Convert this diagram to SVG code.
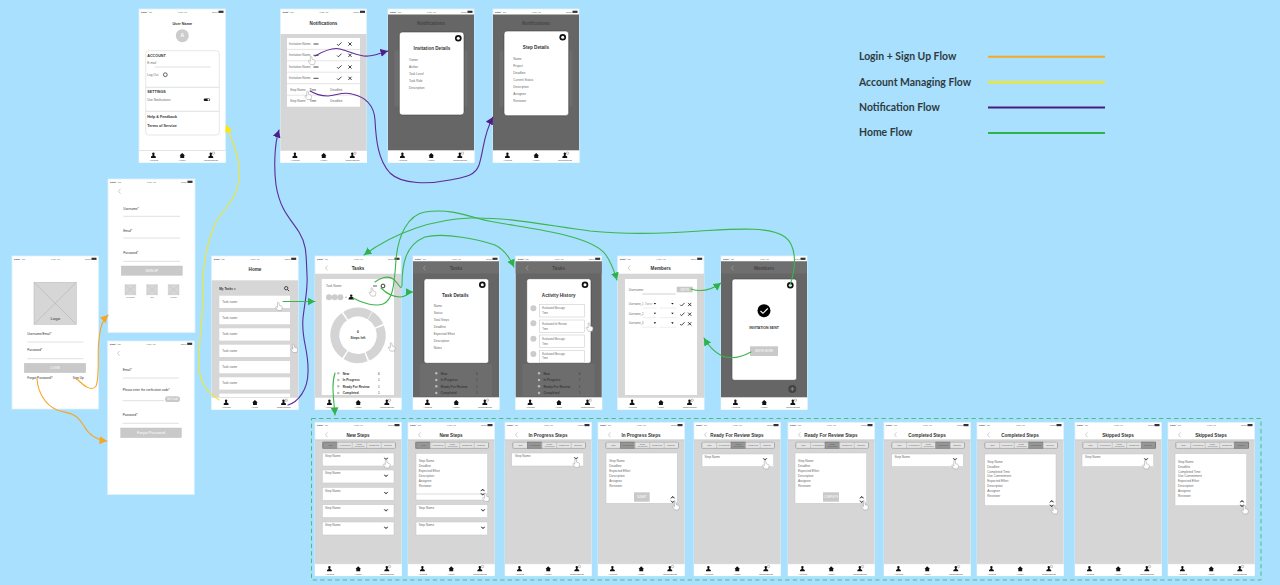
<svg xmlns="http://www.w3.org/2000/svg" xmlns:xlink="http://www.w3.org/1999/xlink" width="1280" height="585" viewBox="0 0 1280 585">
<style>
text{font-family:"Liberation Sans",Arial,sans-serif;font-size:3.1px}
.h{font-size:4.6px;font-weight:700;fill:#333;text-anchor:middle}
.b{font-size:3.7px;font-weight:700;fill:#333}
.m{text-anchor:middle}
.w{fill:#fff;text-anchor:middle}
.dk{fill:#454545;text-anchor:middle;font-size:4.6px;font-weight:700}
.scr{fill:#fff;stroke:#dff3fe;stroke-width:.8}
.g{fill:#d6d6d6}
.ov{fill:#666}
.card{fill:#fff;stroke:#c4c4c4;stroke-width:.5}
.ln{stroke:#dcdcdc;stroke-width:.9;fill:none}
.btn{fill:#c9c9c9;stroke:#bdbdbd;stroke-width:.4}
.modal{fill:#fff;stroke:#444;stroke-width:.6}
.leg{font-family:"Lato","Noto Sans",sans-serif;font-size:10.45px;font-weight:700;fill:#2f3b42}
.flow{fill:none;stroke-width:1.1;stroke-linecap:round}
.or{stroke:#f6a623}.ye{stroke:#f4e631}.pu{stroke:#5e2a98}.gr{stroke:#3cb54a}
</style>
<defs>
<marker id="mor" markerUnits="userSpaceOnUse" markerWidth="9" markerHeight="9" refX="7.5" refY="4" orient="auto"><path d="M0,0L7.5,4L0,8z" fill="#f6a623"/></marker>
<marker id="mye" markerUnits="userSpaceOnUse" markerWidth="9" markerHeight="9" refX="7.5" refY="4" orient="auto"><path d="M0,0L7.5,4L0,8z" fill="#ffe800"/></marker>
<marker id="mpu" markerUnits="userSpaceOnUse" markerWidth="9" markerHeight="9" refX="7.5" refY="4" orient="auto"><path d="M0,0L7.5,4L0,8z" fill="#4f1d8c"/></marker>
<marker id="mgr" markerUnits="userSpaceOnUse" markerWidth="9" markerHeight="9" refX="7.5" refY="4" orient="auto"><path d="M0,0L7.5,4L0,8z" fill="#2fb24a"/></marker>
<g id="st">
<text x="2" y="3.6" style="font-size:2.4px" fill="#444">●●●●○ Fiji</text>
<text x="43.3" y="3.6" class="m" style="font-size:2.4px" fill="#444">9:07 AM</text>
<text x="73" y="3.6" style="font-size:2.4px" fill="#444">100%</text>
<rect x="79.5" y="1.7" width="5" height="2.2" fill="#333"/>
</g>
<g id="tb">
<rect y="141.5" width="86.5" height="12" fill="#fff"/>
<path d="M0,141.5H86.5" stroke="#c8c8c8" stroke-width=".5"/>
<path d="M12,149V147.6L13.6,146.6V146C12.9,145 13,143.6 14.4,143.6S15.9,145 15.2,146V146.6L16.8,147.6V149z" fill="#111"/>
<path d="M40.5,146.6L43.2,144L46,146.6H45.2V149H41.3V146.6z" fill="#111"/>
<path d="M69.4,149V147.6L71,146.6V146C70.3,145 70.4,143.6 71.8,143.6S73.3,145 72.6,146V146.6L74.2,147.6V149z" fill="#111"/>
<circle cx="74.5" cy="144.2" r="1.2" fill="#fff" stroke="#333" stroke-width=".3"/>
<text x="14.5" y="152.4" class="m" style="font-size:2.5px" fill="#444">Account</text>
<text x="43.2" y="152.4" class="m" style="font-size:2.5px" fill="#444">Home</text>
<text x="72" y="152.4" class="m" style="font-size:2.5px" fill="#444">Notifications</text>
</g>
<path id="bk" d="M2,-2.4L0,0L2,2.4" fill="none" stroke="#aaa" stroke-width=".6"/>
<g id="hand"><path d="M-1.2,-4.5C-.4,-5 .3,-4.6 .4,-3.8L.6,-1.6L2.8,-.9C3.6,-.5 3.8,.3 3.4,1.6L2.8,3.6H-1L-3,.6C-3.4,-.1 -2.6,-.8 -1.9,-.2L-1.2,.4z" fill="#fff" stroke="#999" stroke-width=".5"/></g>
<path id="chd" d="M-2,-1L0,1L2,-1L0,.1z" fill="#222" stroke="#222" stroke-width=".4"/>
<path id="chu" d="M-2,1L0,-1L2,1L0,-.1z" fill="#222" stroke="#222" stroke-width=".4"/>
<path id="chk" d="M-2.2,.2L-.9,1.5L2.2,-1.6" fill="none" stroke="#111" stroke-width=".8"/>
<path id="xm" d="M-1.6,-1.6L1.6,1.6M1.6,-1.6L-1.6,1.6" fill="none" stroke="#111" stroke-width=".8"/>
<g id="cl"><circle r="3.3" fill="#111"/><circle r="1.5" fill="#fff"/></g>
<g id="tlist">
<circle cx="23.3" cy="117.3" r="1.2" fill="#bbb"/><circle cx="23.3" cy="124" r="1.2" fill="#bbb"/><circle cx="23.3" cy="130.3" r="1.2" fill="#bbb"/><circle cx="23.3" cy="137" r="1.2" fill="#bbb"/>
<text x="27.7" y="118.5" font-weight="700">New</text><text x="63" y="118.5">6</text>
<text x="27.7" y="125.2" font-weight="700">In Progress</text><text x="63" y="125.2">1</text>
<text x="27.7" y="131.5" font-weight="700">Ready For Review</text><text x="63" y="131.5">1</text>
<text x="27.7" y="138.2" font-weight="700">Completed</text><text x="63" y="138.2">1</text>
</g>
<g id="sb">
<rect x="7.3" y="19.4" width="73.7" height="7" rx="1.8" fill="#a9a9a9"/>
<rect x="8.3" y="20.2" width="71.7" height="5.4" fill="#e4e4e4"/>
<path d="M22.7,20V26M37.2,20V26M51.7,20V26M66.2,20V26" stroke="#999" stroke-width=".4"/>
<g fill="#555" text-anchor="middle">
<text x="15.5" y="23.7" style="font-size:2.1px">New</text>
<text x="30" y="23.7" style="font-size:2.1px">In Progress</text>
<text x="44.5" y="22.5" style="font-size:1.9px">Ready</text><text x="44.5" y="24.7" style="font-size:1.9px">For Review</text>
<text x="59" y="23.7" style="font-size:2.1px">Completed</text>
<text x="73" y="23.7" style="font-size:2.1px">Skipped</text>
</g>
</g>
<g id="stepbase">
<rect width="86.5" height="153.5" class="scr"/>
<rect y="17.4" width="86.5" height="124.1" class="g"/>
<path d="M0,17.5H86.5" stroke="#bbb" stroke-width=".5"/>
<use href="#st"/><use href="#tb"/>
<use href="#bk" x="10.5" y="12.5"/>
<use href="#sb"/>
</g>
<g id="six" fill="#6a6a6a">
<text y="0">Step Name</text><text y="5">Deadline</text><text y="10">Expected Effort</text><text y="15">Description</text><text y="20">Assignee</text><text y="25">Reviewer</text>
</g>
<g id="eight" fill="#6a6a6a">
<text y="0">Step Name</text><text y="4.7">Deadline</text><text y="9.4">Completed Time</text><text y="14.2">Use Commitment</text><text y="19">Expected Effort</text><text y="23.7">Description</text><text y="28.5">Assignee</text><text y="33.3">Reviewer</text>
</g>
</defs>
<rect width="1280" height="585" fill="#a8e0fd"/>

<g id="legend">
<text x="859" y="60" class="leg">Login + Sign Up Flow</text>
<text x="859" y="85.5" class="leg">Account Managing Flow</text>
<text x="859" y="111" class="leg">Notification Flow</text>
<text x="859" y="136" class="leg">Home Flow</text>
<path d="M988,56.7H1105" stroke="#f9a825" stroke-width="2"/>
<path d="M988,82.2H1105" stroke="#ffe800" stroke-width="2"/>
<path d="M988,107.5H1105" stroke="#4a1a80" stroke-width="2"/>
<path d="M988,133H1105" stroke="#2fb24a" stroke-width="2"/>
</g>

<g id="account" transform="translate(139,9)" fill="#6a6a6a">
<rect width="86.5" height="153.5" class="scr"/><use href="#st"/><use href="#tb"/>
<text x="43.3" y="15.5" class="h" style="font-size:3.8px">User Name</text>
<circle cx="43.3" cy="26.7" r="6.5" fill="#ccc"/><text x="43.3" y="28.4" class="w" style="font-size:5px" font-weight="700">A</text>
<rect x="6.7" y="41.7" width="73.6" height="84.3" rx="3" fill="#fff" stroke="#ddd" stroke-width=".7"/>
<text x="8.3" y="48.2" class="b">ACCOUNT</text><text x="8.3" y="54.5">E-mail</text>
<path d="M16,58H71.7M6.7,78.3H80.3M6.7,102.3H80.3" class="ln"/>
<text x="8.3" y="66.8">Log Out</text><circle cx="26.3" cy="65.7" r="1.9" fill="#fff" stroke="#222" stroke-width=".7"/>
<text x="8.3" y="84.2" class="b">SETTINGS</text><text x="8.3" y="91.8">Use Notifications</text>
<rect x="64.7" y="89.5" width="6.4" height="2.6" rx="1.3" fill="#111"/><circle cx="69.5" cy="90.8" r="1" fill="#fff"/>
<text x="8.3" y="109.3" class="b">Help &amp; Feedback</text><text x="8.3" y="117.6" class="b">Terms of Service</text>
</g>

<g id="signup" transform="translate(108,179)" fill="#6a6a6a">
<rect width="87" height="153.5" class="scr"/><use href="#st"/>
<use href="#bk" x="10.5" y="12.3"/>
<text x="15.3" y="30.5" fill="#333">Username*</text><path d="M15.3,37.3H72M15.3,59H72M15.3,82.3H72" class="ln"/>
<text x="15.3" y="52.5" fill="#333">Email*</text><text x="15.3" y="75.2" fill="#333">Password*</text>
<rect x="13.3" y="87" width="61" height="9.3" class="btn"/><text x="43.8" y="92.8" class="w">SIGN UP</text>
<g fill="#d6d6d6" stroke="#bbb" stroke-width=".4"><path d="M17,105.7h10.7v10H17zl10.7,10M27.7,105.7l-10.7,10M38.7,105.7h10.7v10H38.7zl10.7,10M49.4,105.7l-10.7,10M60.3,105.7H71v10H60.3zL71,115.7M71,105.7l-10.7,10"/></g>
<text x="22.3" y="119" class="m" style="font-size:2.4px">WeChat</text><text x="44" y="119" class="m" style="font-size:2.4px">QQ</text><text x="65.6" y="119" class="m" style="font-size:2.4px">Weibo</text>
</g>

<g id="login" transform="translate(12,256)" fill="#6a6a6a">
<rect width="86.5" height="153" class="scr"/><use href="#st"/>
<rect x="22" y="26.3" width="42.3" height="42" fill="#d6d6d6" stroke="#b5b5b5" stroke-width=".5"/>
<path d="M22,26.3L64.3,68.3M64.3,26.3L22,68.3" stroke="#aaa" stroke-width=".5"/>
<text x="43.3" y="64.3" class="m" style="font-size:4.4px" fill="#333">Logo</text>
<text x="15.3" y="79.1" fill="#333">Username/Email*</text><path d="M15.3,86H71.3M15.3,102.7H71.3" class="ln"/>
<text x="15.3" y="95.4" fill="#333">Password*</text>
<rect x="12.3" y="107.3" width="61.4" height="9.4" class="btn"/><text x="43" y="113.1" class="w">LOGIN</text>
<text x="15.3" y="123.1" fill="#333">Forgot Password?</text><text x="60.7" y="123.1" fill="#333">Sign Up</text>
</g>

<g id="forgot" transform="translate(107.7,341)" fill="#6a6a6a">
<rect width="86.5" height="153.5" class="scr"/><use href="#st"/>
<use href="#bk" x="9.8" y="12.3"/>
<text x="15" y="29.8" fill="#333">Email*</text><path d="M15,37H71.3M15,59.7H56.3M15,82.3H71.3" class="ln"/>
<text x="15" y="50.4" fill="#333">Please enter the verification code*</text>
<rect x="57.3" y="55.3" width="15" height="5.7" rx="2.8" fill="#c9c9c9"/><text x="64.8" y="59.2" class="w" style="font-size:2.6px">Get Code</text>
<text x="15" y="75.1" fill="#333">Password*</text>
<rect x="13" y="87" width="60.7" height="9.7" class="btn"/><text x="43.3" y="93.3" class="w" style="font-size:3.7px">Forgot Password</text>
</g>

<g id="home" transform="translate(211.7,256)" fill="#6a6a6a">
<rect width="86.5" height="153.5" class="scr"/><rect y="24.3" width="86.5" height="117.2" class="g"/>
<rect x="7.6" y="39.7" width="70.7" height="12.3" fill="#fff"/><rect x="7.6" y="56" width="70.7" height="12.3" fill="#fff"/><rect x="7.6" y="72.3" width="70.7" height="12.3" fill="#fff"/><rect x="7.6" y="88.7" width="70.7" height="12.3" fill="#fff"/><rect x="7.6" y="105" width="70.7" height="12.3" fill="#fff"/><rect x="7.6" y="121.3" width="70.7" height="12.3" fill="#fff"/><rect x="7.6" y="137.6" width="70.7" height="4" fill="#fff"/>
<use href="#st"/><use href="#tb"/>
<text x="43.3" y="15.4" class="h">Home</text>
<text x="7.6" y="33.8" fill="#333" font-weight="700">My Tasks ▾</text>
<circle cx="74.5" cy="32.2" r="1.7" fill="none" stroke="#111" stroke-width=".7"/><path d="M75.8,33.5L77.4,35.1" stroke="#111" stroke-width=".8"/>
<text x="10.6" y="46.8">Task name</text><text x="10.6" y="63.1">Task name</text><text x="10.6" y="79.4">Task name</text><text x="10.6" y="95.8">Task name</text><text x="10.6" y="112.1">Task name</text><text x="10.6" y="128.4">Task name</text>
<use href="#hand" x="67" y="51"/><use href="#hand" x="82.3" y="93"/>
</g>

<g id="notifications" transform="translate(280.5,9)" fill="#6a6a6a">
<rect width="86" height="153.5" class="scr"/><rect y="25" width="86" height="116.5" class="g"/>
<rect x="6.5" y="29" width="73" height="68.7" fill="#fff"/>
<path d="M6.5,40.4H79.5M6.5,51.8H79.5M6.5,63.2H79.5M6.5,74.6H79.5M6.5,86.2H79.5" stroke="#e2e2e2" stroke-width=".9"/>
<use href="#st"/><use href="#tb"/>
<text x="43" y="15.8" class="h">Notifications</text>
<text x="8.5" y="36">Invitation Name</text><text x="8.5" y="47.4">Invitation Name</text><text x="8.5" y="59">Invitation Name</text><text x="8.5" y="70.3">Invitation Name</text><text x="9.5" y="81.8">Step Name</text><text x="9.5" y="93">Step Name</text>
<path d="M33,35H38M33,46.3H38M33,58H38M33,69.3H38" stroke="#333" stroke-width=".9"/>
<text x="29" y="81.8" fill="#444">Time</text><text x="29" y="93" fill="#444">Time</text><text x="49.8" y="81.8">Deadline</text><text x="49.8" y="93">Deadline</text>
<use href="#chk" x="58.8" y="35"/><use href="#xm" x="69.5" y="35"/><use href="#chk" x="58.8" y="46.3"/><use href="#xm" x="69.5" y="46.3"/><use href="#chk" x="58.8" y="58"/><use href="#xm" x="69.5" y="58"/><use href="#chk" x="58.8" y="69.3"/><use href="#xm" x="69.5" y="69.3"/>
<use href="#hand" x="31" y="52"/><use href="#hand" x="27.5" y="87"/>
</g>

<g id="invitation-details" transform="translate(388,9)" fill="#6a6a6a">
<rect width="86" height="153.5" class="scr"/><rect y="5.5" width="86" height="136" class="ov"/>
<path d="M6.5,41.5H79.5V97.5H6.5z" fill="#6d6d6d"/>
<use href="#st"/><use href="#tb"/>
<text x="43" y="15.8" class="dk">Notifications</text>
<rect x="11.3" y="23" width="64.7" height="83" rx="3" class="modal"/><use href="#cl" x="70.3" y="29.3"/>
<text x="44" y="40.8" class="h">Invitation Details</text>
<text x="21" y="51.8">Owner</text><text x="21" y="59.1">Author</text><text x="21" y="66.1">Task Level</text><text x="21" y="73.1">Task Role</text><text x="21" y="80.4">Description</text>
</g>

<g id="step-details" transform="translate(493,9)" fill="#6a6a6a">
<rect width="86" height="153.5" class="scr"/><rect y="5.5" width="86" height="136" class="ov"/>
<path d="M6.5,41.5H79.5V97.5H6.5z" fill="#6d6d6d"/>
<use href="#st"/><use href="#tb"/>
<text x="43" y="15.8" class="dk">Notifications</text>
<rect x="11" y="22" width="64.7" height="84.7" rx="3" class="modal"/><use href="#cl" x="69.7" y="28.3"/>
<text x="43" y="39.8" class="h">Step Details</text>
<text x="20.3" y="50.8">Name</text><text x="20.3" y="57.8">Project</text><text x="20.3" y="65.1">Deadline</text><text x="20.3" y="72.1">Current Status</text><text x="20.3" y="79.1">Description</text><text x="20.3" y="86.1">Assignee</text><text x="20.3" y="93.1">Reviewer</text>
</g>

<g id="tasks" transform="translate(315,256)" fill="#6a6a6a">
<rect width="86" height="153.5" class="scr"/><rect y="17.7" width="86" height="123.8" class="g"/><rect x="6.7" y="23" width="72.3" height="116" fill="#fff"/>
<use href="#st"/><use href="#tb"/><use href="#bk" x="10.5" y="12"/>
<text x="43" y="14.2" class="h">Tasks</text>
<text x="11" y="31.1">Task Name</text>
<circle cx="14" cy="41.3" r="3" fill="#ccc"/><circle cx="19.7" cy="41.3" r="3" fill="#ccc"/><circle cx="25.3" cy="41.3" r="3" fill="#ccc"/>
<text x="30" y="42.4" fill="#333">+</text><path d="M33.5,43.5C33.5,41.5 35,40.5 36.2,40.5S39,41.5 39,43.5z" fill="#111"/><circle cx="36.2" cy="39.6" r="1.2" fill="#111"/>
<path d="M58,30H62" stroke="#333" stroke-width=".8"/><circle cx="68" cy="30" r="1.9" fill="#fff" stroke="#222" stroke-width=".9"/>
<use href="#hand" x="57.3" y="36.5"/>
<g transform="rotate(-58 43 79.3)"><circle cx="43" cy="79.3" r="23.2" fill="none" stroke="#d4d4d4" stroke-width="9" stroke-dasharray="13.5 1.5 34.9 1.5 20.8 1.5 43.8 1.5 25.2 1.5"/></g>
<text x="43" y="77.2" class="b m" style="font-size:3.3px">6</text><text x="43" y="82.5" class="b m" style="font-size:3.3px">Steps left</text>
<use href="#hand" x="76.5" y="91.5"/>
<use href="#tlist" fill="#333"/>
</g>

<g id="task-details" transform="translate(413,256)" fill="#6a6a6a">
<rect width="86" height="153.5" class="scr"/><rect y="5.5" width="86" height="136" class="ov"/><rect y="5.5" width="86" height="12" fill="#6f6f6f"/>
<rect x="6.7" y="108" width="72.3" height="32" fill="#6d6d6d"/>
<use href="#st"/><use href="#tb"/><use href="#bk" x="10.5" y="12"/>
<text x="43" y="14.2" class="dk">Tasks</text><use href="#tlist" fill="#3a3a3a"/>
<rect x="11" y="22.7" width="64.7" height="84.6" rx="2.5" class="modal"/><use href="#cl" x="69.3" y="28.7"/>
<text x="42.3" y="40.5" class="h">Task Details</text>
<text x="20.7" y="51.4">Name</text><text x="20.7" y="58.4">Status</text><text x="20.7" y="64.8">Total Steps</text><text x="20.7" y="71.8">Deadline</text><text x="20.7" y="78.8">Expected Effort</text><text x="20.7" y="86.1">Description</text><text x="20.7" y="93.1">Notes</text>
</g>

<g id="activity-history" transform="translate(515.7,256)" fill="#6a6a6a">
<rect width="86" height="153.5" class="scr"/><rect y="5.5" width="86" height="136" class="ov"/><rect y="5.5" width="86" height="12" fill="#6f6f6f"/>
<rect x="6.7" y="108" width="72.3" height="32" fill="#6d6d6d"/>
<use href="#st"/><use href="#tb"/><use href="#bk" x="10.5" y="12"/>
<text x="43" y="14.2" class="dk">Tasks</text><use href="#tlist" fill="#3a3a3a"/>
<rect x="11" y="22.7" width="64.3" height="84.6" rx="2.5" class="modal"/><use href="#cl" x="69.3" y="28.7"/>
<text x="43" y="40.5" class="h">Activity History</text>
<g fill="#ccc"><circle cx="17.7" cy="52.3" r="3"/><circle cx="17.7" cy="67.3" r="3"/><circle cx="17.7" cy="82.7" r="3"/><circle cx="17.7" cy="98" r="3"/></g>
<rect x="23.7" y="48.3" width="45" height="12.7" class="card"/><rect x="23.7" y="64" width="45" height="12.7" class="card"/><rect x="23.7" y="79" width="45" height="12.7" class="card"/><rect x="23.7" y="94.3" width="45" height="12" class="card"/>
<g><text x="26.5" y="53" style="font-size:2.6px">Evaluated Message</text><text x="26.5" y="58.3" style="font-size:2.6px">Time</text><text x="26.5" y="68.5" style="font-size:2.6px">Evaluated for Review</text><text x="26.5" y="73.6" style="font-size:2.6px">Time</text><text x="26.5" y="83.5" style="font-size:2.6px">Evaluated Message</text><text x="26.5" y="88.8" style="font-size:2.6px">Time</text><text x="26.5" y="98.5" style="font-size:2.6px">Evaluated Message</text><text x="26.5" y="103.4" style="font-size:2.6px">Time</text></g>
<use href="#hand" x="73.7" y="71.7"/>
</g>

<g id="members" transform="translate(617.7,256)" fill="#6a6a6a">
<rect width="86.3" height="153.5" class="scr"/><rect y="17.7" width="86.3" height="123.8" class="g"/><rect x="7.3" y="23" width="72" height="116" fill="#fff"/>
<use href="#st"/><use href="#tb"/><use href="#bk" x="10.5" y="12"/>
<text x="43" y="14.2" class="h">Members</text>
<text x="11" y="34.8">Username:</text><path d="M24.7,38H58" stroke="#ccc" stroke-width=".9"/>
<rect x="59" y="30.7" width="16" height="5.6" fill="#c9c9c9"/><text x="67" y="34.6" class="w" style="font-size:2.6px">INVITE</text>
<g><text x="11" y="49" style="font-size:2.6px">Username_1</text><text x="11" y="58.7" style="font-size:2.6px">Username_2</text><text x="11" y="68.3" style="font-size:2.6px">Username_3</text><text x="27" y="49" style="font-size:2.6px" fill="#999">Owner</text></g>
<path d="M25,52H39M41.7,52H59M25,61.7H39M41.7,61.7H59M25,71.3H39M41.7,71.3H59" class="ln" style="stroke-width:.5"/>
<path d="M36,47H38.4L37.2,48.6zM53.5,47H56L54.7,48.6zM36,56.7H38.4L37.2,58.3zM53.5,56.7H56L54.7,58.3zM36,66.3H38.4L37.2,67.9zM53.5,66.3H56L54.7,67.9z" fill="#111"/>
<use href="#chk" x="64.7" y="48.5"/><use href="#xm" x="72" y="48.5"/><use href="#chk" x="64.7" y="58.2"/><use href="#xm" x="72" y="58.2"/><use href="#chk" x="64.7" y="67.8"/><use href="#xm" x="72" y="67.8"/>
</g>

<g id="invitation-sent" transform="translate(721,256)" fill="#6a6a6a">
<rect width="86" height="153.5" class="scr"/><rect y="5.5" width="86" height="136" class="ov"/><rect y="5.5" width="86" height="12" fill="#6f6f6f"/>
<use href="#st"/><use href="#tb"/><use href="#bk" x="10.5" y="12"/>
<text x="43" y="14.2" class="dk">Members</text>
<rect x="11" y="23" width="64.7" height="101.3" rx="2.5" class="modal"/><use href="#cl" x="69.3" y="29.3"/>
<circle cx="43" cy="54.7" r="6.5" fill="#000"/><path d="M39.5,55L42,57.3L46.7,52.5" fill="none" stroke="#fff" stroke-width="1.1"/>
<text x="43" y="73" class="b m" style="font-size:3.5px">INVITATION SENT</text>
<rect x="29" y="90.3" width="28" height="9.7" fill="#c9c9c9"/><text x="43" y="96.2" class="w" style="font-size:2.8px">INVITE MORE</text>
<circle cx="71.3" cy="133" r="4" fill="#444"/><path d="M69.3,133H73.3M71.3,131V135" stroke="#aaa" stroke-width=".6"/>
</g>

<rect id="step-frame" x="311.5" y="418.5" width="949.5" height="161.5" fill="none" stroke="#4dbd80" stroke-width="1" stroke-dasharray="4.3 3.2"/>

<g id="new-steps-1" transform="translate(315,422.3)" fill="#6a6a6a">
<use href="#stepbase"/><rect x="7.3" y="19.4" width="14.7" height="7" fill="#555" opacity=".55"/><text x="43" y="14.5" class="h">New Steps</text>
<rect x="7.3" y="30.7" width="71.7" height="13" class="card"/><rect x="7.3" y="47.7" width="71.7" height="13" class="card"/><rect x="7.3" y="65" width="71.7" height="13" class="card"/><rect x="7.3" y="82.3" width="71.7" height="13" class="card"/><rect x="7.3" y="99.7" width="71.7" height="13" class="card"/>
<text x="10" y="35.2">Step Name</text><text x="10" y="52.2">Step Name</text><text x="10" y="69.5">Step Name</text><text x="10" y="86.8">Step Name</text><text x="10" y="104.2">Step Name</text>
<use href="#chd" x="71" y="36.5"/><use href="#chd" x="71" y="53.5"/><use href="#chd" x="71" y="70.8"/><use href="#chd" x="71" y="88"/><use href="#chd" x="71" y="105.5"/>
<use href="#hand" x="71.5" y="42"/>
</g>

<g id="new-steps-2" transform="translate(408,422.3)" fill="#6a6a6a">
<use href="#stepbase"/><rect x="7.3" y="19.4" width="14.7" height="7" fill="#555" opacity=".55"/><text x="43" y="14.5" class="h">New Steps</text>
<rect x="8" y="31" width="71.7" height="46.7" class="card"/><path d="M8,71.7H79.7" stroke="#bbb" stroke-width=".5"/>
<use href="#six" x="10.7" y="40"/>
<use href="#chu" x="74.7" y="67.7"/><use href="#chd" x="74.7" y="72"/><use href="#hand" x="77.7" y="75.5"/>
<rect x="8" y="82.3" width="71.7" height="13" class="card"/><rect x="8" y="99.7" width="71.7" height="13" class="card"/>
<text x="10.7" y="86.8">Step Name</text><text x="10.7" y="104.2">Step Name</text><use href="#chd" x="75" y="88"/><use href="#chd" x="75" y="105.5"/>
</g>

<g id="inprogress-steps-1" transform="translate(505,422.3)" fill="#6a6a6a">
<use href="#stepbase"/><rect x="22" y="19.4" width="14.7" height="7" fill="#555" opacity=".55"/><text x="43" y="14.5" class="h">In Progress Steps</text>
<rect x="6.7" y="30.7" width="72" height="13" class="card"/><text x="10" y="35.2">Step Name</text><use href="#chd" x="71" y="36"/><use href="#hand" x="71" y="41.5"/>
</g>

<g id="inprogress-steps-2" transform="translate(598,422.3)" fill="#6a6a6a">
<use href="#stepbase"/><rect x="22" y="19.4" width="14.7" height="7" fill="#555" opacity=".55"/><text x="43" y="14.5" class="h">In Progress Steps</text>
<rect x="8" y="30.7" width="71.3" height="50.3" class="card"/><use href="#six" x="11.3" y="40"/>
<rect x="36" y="70" width="15.7" height="9.4" fill="#c9c9c9"/><text x="43.8" y="75.7" class="w" style="font-size:2.6px">SUBMIT</text>
<use href="#chu" x="74.7" y="75"/><use href="#chd" x="74.7" y="79.5"/><use href="#hand" x="77.7" y="84"/>
</g>

<g id="ready-steps-1" transform="translate(694,422.3)" fill="#6a6a6a">
<use href="#stepbase"/><rect x="36.7" y="19.4" width="14.7" height="7" fill="#555" opacity=".55"/><text x="43" y="14.5" class="h">Ready For Review Steps</text>
<rect x="8" y="31.7" width="71.7" height="12.7" class="card"/><text x="10.5" y="36.2">Step Name</text><use href="#chd" x="71" y="37"/><use href="#hand" x="71.5" y="43"/>
</g>

<g id="ready-steps-2" transform="translate(788,422.3)" fill="#6a6a6a">
<use href="#stepbase"/><rect x="36.7" y="19.4" width="14.7" height="7" fill="#555" opacity=".55"/><text x="43" y="14.5" class="h">Ready For Review Steps</text>
<rect x="7" y="30.7" width="71.7" height="50.3" class="card"/><use href="#six" x="10" y="40"/>
<rect x="35" y="70" width="16" height="9.4" fill="#c9c9c9"/><text x="43" y="75.7" class="w" style="font-size:2.6px">COMPLETE</text>
<use href="#chu" x="73.7" y="75"/><use href="#chd" x="73.7" y="79.5"/><use href="#hand" x="76.7" y="84"/>
</g>

<g id="completed-steps-1" transform="translate(884,422.3)" fill="#6a6a6a">
<use href="#stepbase"/><rect x="51.4" y="19.4" width="14.7" height="7" fill="#555" opacity=".55"/><text x="43" y="14.5" class="h">Completed Steps</text>
<rect x="7.7" y="31.7" width="71.6" height="12.7" class="card"/><text x="10.5" y="36.2">Step Name</text><use href="#chd" x="71" y="37"/><use href="#hand" x="71" y="43"/>
</g>

<g id="completed-steps-2" transform="translate(977,422.3)" fill="#6a6a6a">
<use href="#stepbase"/><rect x="51.4" y="19.4" width="14.7" height="7" fill="#555" opacity=".55"/><text x="43" y="14.5" class="h">Completed Steps</text>
<rect x="7.7" y="31.7" width="71.3" height="51.7" class="card"/><use href="#eight" x="10.3" y="41"/>
<use href="#chu" x="74.7" y="79"/><use href="#chd" x="74.7" y="83.5"/><use href="#hand" x="77.3" y="88"/>
</g>

<g id="skipped-steps-1" transform="translate(1075,422.3)" fill="#6a6a6a">
<use href="#stepbase"/><rect x="66.1" y="19.4" width="14.9" height="7" fill="#555" opacity=".55"/><text x="43" y="14.5" class="h">Skipped Steps</text>
<rect x="7" y="31.7" width="71.7" height="12.7" class="card"/><text x="10" y="36.2">Step Name</text><use href="#chd" x="71" y="37"/><use href="#hand" x="70.7" y="43"/>
</g>

<g id="skipped-steps-2" transform="translate(1168,422.3)" fill="#6a6a6a">
<use href="#stepbase"/><rect x="66.1" y="19.4" width="14.9" height="7" fill="#555" opacity=".55"/><text x="43" y="14.5" class="h">Skipped Steps</text>
<rect x="7" y="31.4" width="71.7" height="52" class="card"/><use href="#eight" x="10" y="41"/>
<use href="#chu" x="74" y="79"/><use href="#chd" x="74" y="83.5"/><use href="#hand" x="76.7" y="88"/>
</g>

<g id="connectors">
<path class="flow or" marker-end="url(#mor)" d="M77,379C84,386 92,392 96,386C100,378 97,350 99,340C100,330 101,322 108,315"/>
<path class="flow or" marker-end="url(#mor)" d="M37,379C38,392 45,405 57,410C68,414 75,411 84,426C90,437 98,440 107,441"/>
<path class="flow ye" marker-end="url(#mye)" d="M219,400C210,394 199,385 199,365C198,345 204,310 203,290C202,262 208,240 216,222C226,205 235,200 238,185C243,165 234,145 226,125"/>
<path class="flow pu" marker-end="url(#mpu)" d="M288,405C298,402 308,390 308,372C309,350 301,340 303,318C305,300 308,290 307,275C306,255 307,245 299,232C290,218 280,210 276,185C274,170 274,145 279,130"/>
<path class="flow pu" marker-end="url(#mpu)" d="M315,56C322,52 332,47 340,49C352,52 360,57 368,56C375,56 380,53 388,51"/>
<path class="flow pu" marker-end="url(#mpu)" d="M310,91C316,94 320,96 328,96C336,96 342,91 352,94C366,97 374,105 375,120C376,140 378,160 390,173C402,185 430,184 450,180C465,177 475,176 479,165C484,150 483,135 493,117"/>
<path class="flow gr" marker-end="url(#mgr)" d="M283,301.5H315"/>
<path class="flow gr" marker-end="url(#mgr)" d="M375,282C380,278 388,275 393,279C400,284 401,292 402,285C402,265 405,245 425,237C445,232 480,240 495,245C505,250 510,258 514,267"/>
<path class="flow gr" marker-end="url(#mgr)" d="M381,288C386,293 392,297 400,297C407,297 408,292 413,292"/>
<path class="flow gr" marker-end="url(#mgr)" d="M353,298C362,303 375,307 383,304C392,300 394,290 396,260C398,235 408,215 425,212C445,209 460,213 480,219C510,227 590,232 606,255C612,264 614,270 617,280"/>
<path class="flow gr" marker-end="url(#mgr)" d="M790,285C797,265 796,245 785,237C770,226 735,229 700,231C660,234 620,234 590,231C550,226 510,217 470,218C435,219 395,232 364,255"/>
<path class="flow gr" marker-end="url(#mgr)" d="M691,289C700,292 710,291 721,283"/>
<path class="flow gr" marker-end="url(#mgr)" d="M751,352C740,358 730,359 722,356C714,352 708,345 704,338"/>
<path class="flow gr" marker-end="url(#mgr)" d="M335,373C331,385 334,400 335,415"/>
</g>
</svg>
